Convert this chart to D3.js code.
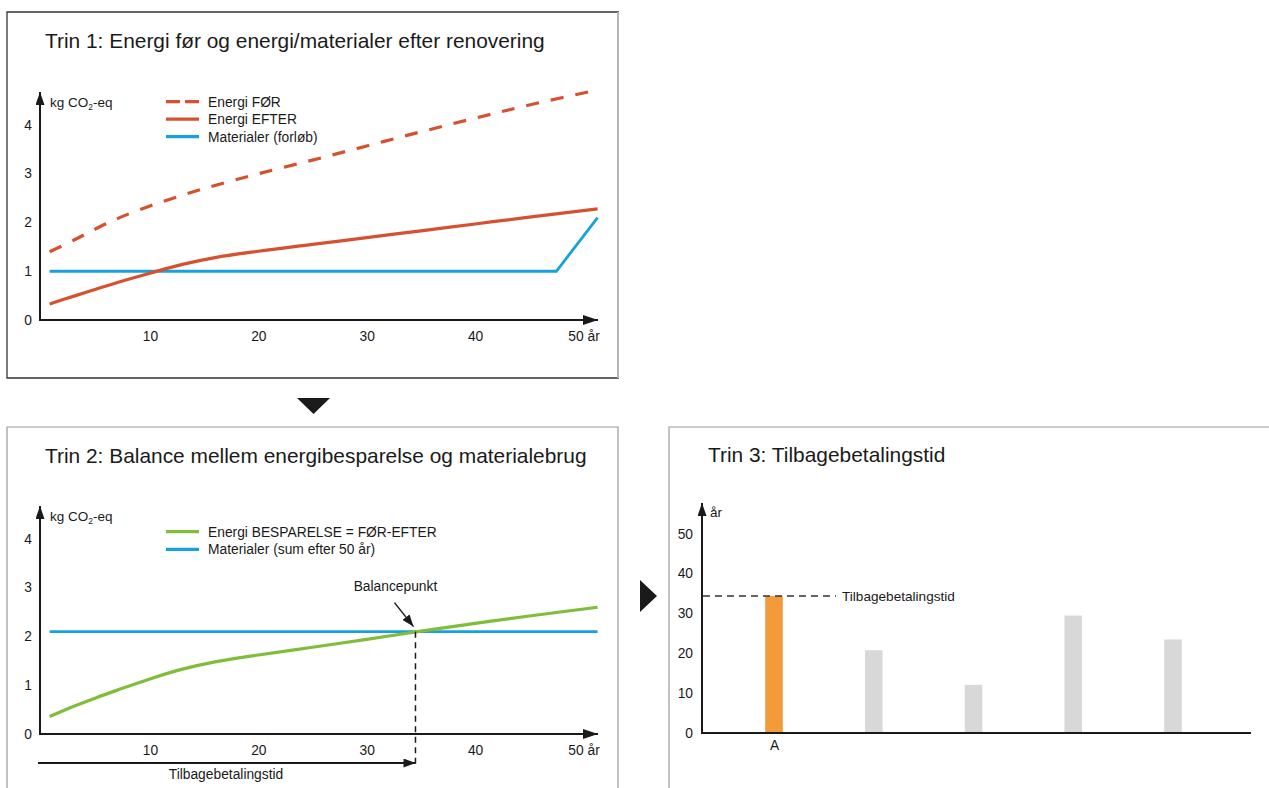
<!DOCTYPE html>
<html><head><meta charset="utf-8">
<script src="https://cdn.jsdelivr.net/npm/d3@7"></script>
<style>
body{margin:0;background:#fff;}
svg{display:block;font-family:"Liberation Sans",Arial,Helvetica,sans-serif;}
</style></head><body>
<svg id="chart" width="1269" height="788"></svg>
<script>
// ---------- data ----------
const years = [0.75, 3, 5, 7, 10, 13, 16, 20, 25, 30, 35, 40, 45, 51.3];
const energiFoer = [1.40, 1.64, 1.87, 2.08, 2.34, 2.56, 2.76, 3.00, 3.28, 3.57, 3.86, 4.14, 4.41, 4.72];
const energiEfter = [0.33, 0.49, 0.63, 0.77, 0.96, 1.14, 1.28, 1.41, 1.55, 1.69, 1.83, 1.97, 2.11, 2.28];
const materialerYears = [0.75, 47.5, 51.3];
const materialerForloeb = [1, 1, 2.1];
const besparelse = [0.36, 0.57, 0.74, 0.90, 1.13, 1.33, 1.48, 1.62, 1.78, 1.94, 2.11, 2.27, 2.42, 2.60];
const materialerSum = 2.1;
const balanceYear = 34.5;
const yTicks = [0, 1, 2, 3, 4];
const xTicks = [10, 20, 30, 40, 50];
const xTickLabels = ["10", "20", "30", "40", "50 år"];
const legend1 = ["Energi FØR", "Energi EFTER", "Materialer (forløb)"];
const legend2 = ["Energi BESPARELSE = FØR-EFTER", "Materialer (sum efter 50 år)"];
const projects = ["A", "B", "C", "D", "E"];
const projectLabels = ["A", "", "", "", ""];
const paybackYears = [34.4, 20.8, 12.1, 29.5, 23.5];
const barTicks = [0, 10, 20, 30, 40, 50];

// ---------- style ----------
const RED = "#d6512f", BLUE = "#16a2e0", GREEN = "#80bd3a", ORANGE = "#f39a3b", GRAY = "#d8d8d8", INK = "#1a1a1a";

const svg = d3.select("#chart");
const defs = svg.append("defs");
function marker(id, w, h) {
  defs.append("marker").attr("id", id).attr("viewBox", "0 0 10 10")
    .attr("markerUnits", "userSpaceOnUse").attr("markerWidth", w).attr("markerHeight", h)
    .attr("refX", 10).attr("refY", 5).attr("orient", "auto").attr("preserveAspectRatio", "none")
    .append("path").attr("d", "M0,0L10,5L0,10Z").attr("fill", INK);
}
marker("ax", 15, 10);
marker("ay", 13, 9);
marker("ab", 12, 9);

// panel frames
svg.append("path").attr("d", "M619,12H7V378H619").attr("fill", "none").attr("stroke", "#333").attr("stroke-width", 1.3);
svg.append("line").attr("x1", 618).attr("x2", 618).attr("y1", 12).attr("y2", 378).attr("stroke", "#b5b5b5").attr("stroke-width", 2);
svg.append("path").attr("d", "M7,800V427H618V800").attr("fill", "none").attr("stroke", "#9a9a9a").attr("stroke-width", 1.2);
svg.append("path").attr("d", "M669,800V427H1275").attr("fill", "none").attr("stroke", "#9a9a9a").attr("stroke-width", 1.2);

// flow triangles
svg.append("path").attr("d", "M297,398H330L313.5,414Z").attr("fill", INK);
svg.append("path").attr("d", "M640,580V612L657,596Z").attr("fill", INK);

function title(x, y, t) {
  svg.append("text").attr("x", x).attr("y", y).attr("font-size", 20.9).attr("fill", INK).text(t);
}
title(45, 48, "Trin 1: Energi før og energi/materialer efter renovering");
title(45, 463, "Trin 2: Balance mellem energibesparelse og materialebrug");
title(708, 462, "Trin 3: Tilbagebetalingstid");

function kgLabel(x, y) {
  const t = svg.append("text").attr("x", x).attr("y", y).attr("font-size", 13.5).attr("fill", INK);
  t.append("tspan").text("kg CO");
  t.append("tspan").attr("font-size", 8.5).attr("dy", 3.5).text("2");
  t.append("tspan").attr("dy", -3.5).text("-eq");
}

function linePanel(cfg) {
  const x = d3.scaleLinear().domain([0, 50]).range([41.5, 583.5]);
  const y = d3.scaleLinear().domain([0, 4]).range([cfg.y0, cfg.y0 - 195]);
  const g = svg.append("g");
  const ya = g.append("g").attr("transform", "translate(40,0)")
    .call(d3.axisLeft(y).tickValues(yTicks).tickSize(0).tickPadding(8).tickFormat(d3.format("d")));
  const xa = g.append("g").attr("transform", `translate(0,${cfg.y0})`)
    .call(d3.axisBottom(x).tickValues(xTicks).tickSize(0).tickPadding(11).tickFormat((d, i) => xTickLabels[i]));
  [ya, xa].forEach(a => { a.select(".domain").remove(); a.selectAll("text").attr("font-size", 13.8).attr("fill", INK).attr("font-family", null); });
  ya.selectAll("text").attr("dy", "0.3em");
  g.append("line").attr("x1", 40).attr("x2", 40).attr("y1", cfg.y0 + 1).attr("y2", cfg.y0 - 228)
    .attr("stroke", INK).attr("stroke-width", 2).attr("marker-end", "url(#ay)");
  g.append("line").attr("x1", 39).attr("x2", 598).attr("y1", cfg.y0).attr("y2", cfg.y0)
    .attr("stroke", INK).attr("stroke-width", 2).attr("marker-end", "url(#ax)");
  kgLabel(50, cfg.y0 - 213.5);
  return { x, y, g };
}

// ---------- Panel 1 ----------
{
  const { x, y, g } = linePanel({ y0: 320 });
  const line = d3.line().x(d => x(d[0])).y(d => y(d[1])).curve(d3.curveCatmullRom);
  g.append("path").datum(d3.zip(materialerYears, materialerForloeb))
    .attr("d", d3.line().x(d => x(d[0])).y(d => y(d[1])))
    .attr("fill", "none").attr("stroke", BLUE).attr("stroke-width", 2.8);
  g.append("path").datum(d3.zip(years, energiEfter)).attr("d", line)
    .attr("fill", "none").attr("stroke", RED).attr("stroke-width", 3.2);
  g.append("path").datum(d3.zip(years, energiFoer)).attr("d", line)
    .attr("fill", "none").attr("stroke", RED).attr("stroke-width", 3.2).attr("stroke-dasharray", "13,12");
  const styles = [
    { c: RED, dash: "14,5" }, { c: RED, dash: null }, { c: BLUE, dash: null }
  ];
  legend1.forEach((t, i) => {
    const yy = 101.7 + i * 17.5;
    g.append("line").attr("x1", 166).attr("x2", 199).attr("y1", yy).attr("y2", yy)
      .attr("stroke", styles[i].c).attr("stroke-width", 3.2).attr("stroke-dasharray", styles[i].dash);
    g.append("text").attr("x", 208).attr("y", yy + 5).attr("font-size", 13.8).attr("fill", INK).text(t);
  });
}

// ---------- Panel 2 ----------
{
  const { x, y, g } = linePanel({ y0: 734 });
  const line = d3.line().x(d => x(d[0])).y(d => y(d[1])).curve(d3.curveCatmullRom);
  g.append("line").attr("x1", x(years[0])).attr("x2", x(years[years.length - 1]))
    .attr("y1", y(materialerSum)).attr("y2", y(materialerSum))
    .attr("stroke", BLUE).attr("stroke-width", 2.8);
  g.append("path").datum(d3.zip(years, besparelse)).attr("d", line)
    .attr("fill", "none").attr("stroke", GREEN).attr("stroke-width", 3.2);
  const bx = x(balanceYear), by = y(materialerSum);
  g.append("line").attr("x1", bx).attr("x2", bx).attr("y1", by).attr("y2", 768)
    .attr("stroke", INK).attr("stroke-width", 1.5).attr("stroke-dasharray", "6,4.5");
  g.append("line").attr("x1", bx - 21).attr("x2", bx - 2).attr("y1", by - 29).attr("y2", by - 5)
    .attr("stroke", INK).attr("stroke-width", 1.5).attr("marker-end", "url(#ab)");
  g.append("text").attr("x", bx - 20).attr("y", by - 41).attr("text-anchor", "middle")
    .attr("font-size", 13.8).attr("fill", INK).text("Balancepunkt");
  g.append("line").attr("x1", 38).attr("x2", bx).attr("y1", 763).attr("y2", 763)
    .attr("stroke", INK).attr("stroke-width", 1.8).attr("marker-end", "url(#ab)");
  g.append("text").attr("x", 226).attr("y", 779).attr("text-anchor", "middle")
    .attr("font-size", 13.8).attr("fill", INK).text("Tilbagebetalingstid");
  const cols = [GREEN, BLUE];
  legend2.forEach((t, i) => {
    const yy = 531.7 + i * 17.6;
    g.append("line").attr("x1", 166).attr("x2", 199).attr("y1", yy).attr("y2", yy)
      .attr("stroke", cols[i]).attr("stroke-width", 3.2);
    g.append("text").attr("x", 208).attr("y", yy + 5).attr("font-size", 13.8).attr("fill", INK).text(t);
  });
}

// ---------- Panel 3 ----------
{
  const y = d3.scaleLinear().domain([0, 50]).range([733, 534]);
  const x = d3.scalePoint().domain(projects).range([774, 1173]);
  const bw = 17.6;
  const g = svg.append("g");
  const ya = g.append("g").attr("transform", "translate(702,0)")
    .call(d3.axisLeft(y).tickValues(barTicks).tickSize(0).tickPadding(9));
  const xa = g.append("g").attr("transform", "translate(0,733)")
    .call(d3.axisBottom(x).tickSize(0).tickPadding(7).tickFormat((d, i) => projectLabels[i]));
  [ya, xa].forEach(a => { a.select(".domain").remove(); a.selectAll("text").attr("font-size", 13.8).attr("fill", INK).attr("font-family", null); });
  ya.selectAll("text").attr("dy", "0.3em");
  g.selectAll("rect.bar").data(paybackYears).join("rect").attr("class", "bar")
    .attr("x", (d, i) => x(projects[i]) - bw / 2).attr("width", bw)
    .attr("y", d => y(d)).attr("height", d => y(0) - y(d))
    .attr("fill", (d, i) => i === 0 ? ORANGE : GRAY);
  g.append("line").attr("x1", 702).attr("x2", 702).attr("y1", 734).attr("y2", 503)
    .attr("stroke", INK).attr("stroke-width", 2).attr("marker-end", "url(#ay)");
  g.append("line").attr("x1", 701).attr("x2", 1251).attr("y1", 733).attr("y2", 733)
    .attr("stroke", INK).attr("stroke-width", 2);
  g.append("text").attr("x", 710).attr("y", 517).attr("font-size", 13.5).attr("fill", INK).text("år");
  const py = y(paybackYears[0]);
  g.append("line").attr("x1", 703).attr("x2", 836).attr("y1", py).attr("y2", py)
    .attr("stroke", "#333").attr("stroke-width", 1.5).attr("stroke-dasharray", "7,5");
  g.append("text").attr("x", 842).attr("y", py + 5).attr("font-size", 13.6).attr("fill", INK).text("Tilbagebetalingstid");
}
</script>
</body></html>
